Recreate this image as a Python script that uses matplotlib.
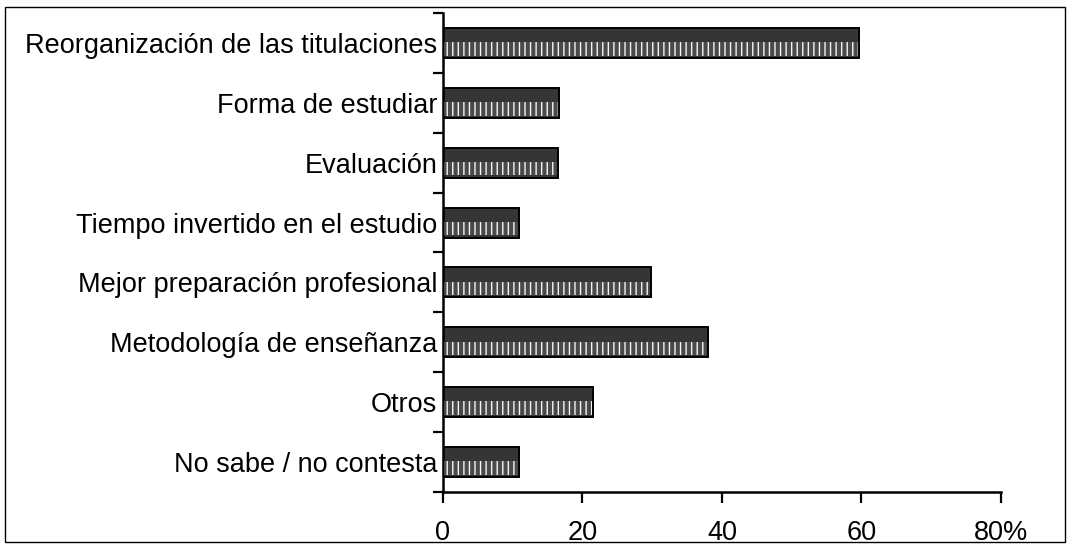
import matplotlib.pyplot as plt
import matplotlib.patches as mpatches
from matplotlib.ticker import FixedLocator

categories = [
    "Reorganización de las titulaciones",
    "Forma de estudiar",
    "Evaluación",
    "Tiempo invertido en el estudio",
    "Mejor preparación profesional",
    "Metodología de enseñanza",
    "Otros",
    "No sabe / no contesta",
]
values = [59.6, 16.6, 16.5, 10.9, 29.8, 38.0, 21.5, 10.9]
xticks = [0, 20, 40, 60, 80]
xtick_labels = ["0", "20", "40", "60", "80%"]

plt.rcParams["font.family"] = ["Liberation Sans", "DejaVu Sans"]

fig = plt.figure(figsize=(10.71, 5.48), dpi=100)
ax = fig.add_axes([0.4136, 0.1022, 0.9346 - 0.4136, 0.9763 - 0.1022])

pos = list(range(len(categories)))
bar_h = 0.5

# dark top half (noisy grey in the scan)
ax.barh(pos, values, height=bar_h, color="#353535", edgecolor="none", zorder=2)
# lower half with light vertical streaks
lower = [p + bar_h * 0.2 for p in pos]
ax.barh(lower, values, height=bar_h * 0.45, color="#4a4a4a",
        edgecolor="#f4f4f4", linewidth=0, hatch="|||", zorder=3)
# outline
ax.barh(pos, values, height=bar_h, fill=False, edgecolor="black",
        linewidth=1.4, zorder=4)

ax.set_xlim(0, 80)
ax.set_ylim(len(categories) - 0.5, -0.5)

ax.set_yticks(pos)
ax.set_yticklabels(categories, fontsize=19.5)
ax.yaxis.set_minor_locator(FixedLocator([p - 0.5 for p in pos] + [len(pos) - 0.5]))
ax.tick_params(axis="y", which="major", length=0, pad=4)
ax.tick_params(axis="y", which="minor", length=7, width=1.6, direction="out")

ax.set_xticks(xticks)
ax.set_xticklabels(xtick_labels, fontsize=19.5)
ax.tick_params(axis="x", length=8, width=1.6, direction="out", pad=12)

for s in ["top", "right"]:
    ax.spines[s].set_visible(False)
for s in ["left", "bottom"]:
    ax.spines[s].set_linewidth(1.8)

# outer frame around the chart
fig.patches.append(mpatches.Rectangle((0.0047, 0.011), 0.9897, 0.976,
                                      transform=fig.transFigure, fill=False,
                                      edgecolor="black", linewidth=1.0))

fig.savefig("out.png", dpi=100)
